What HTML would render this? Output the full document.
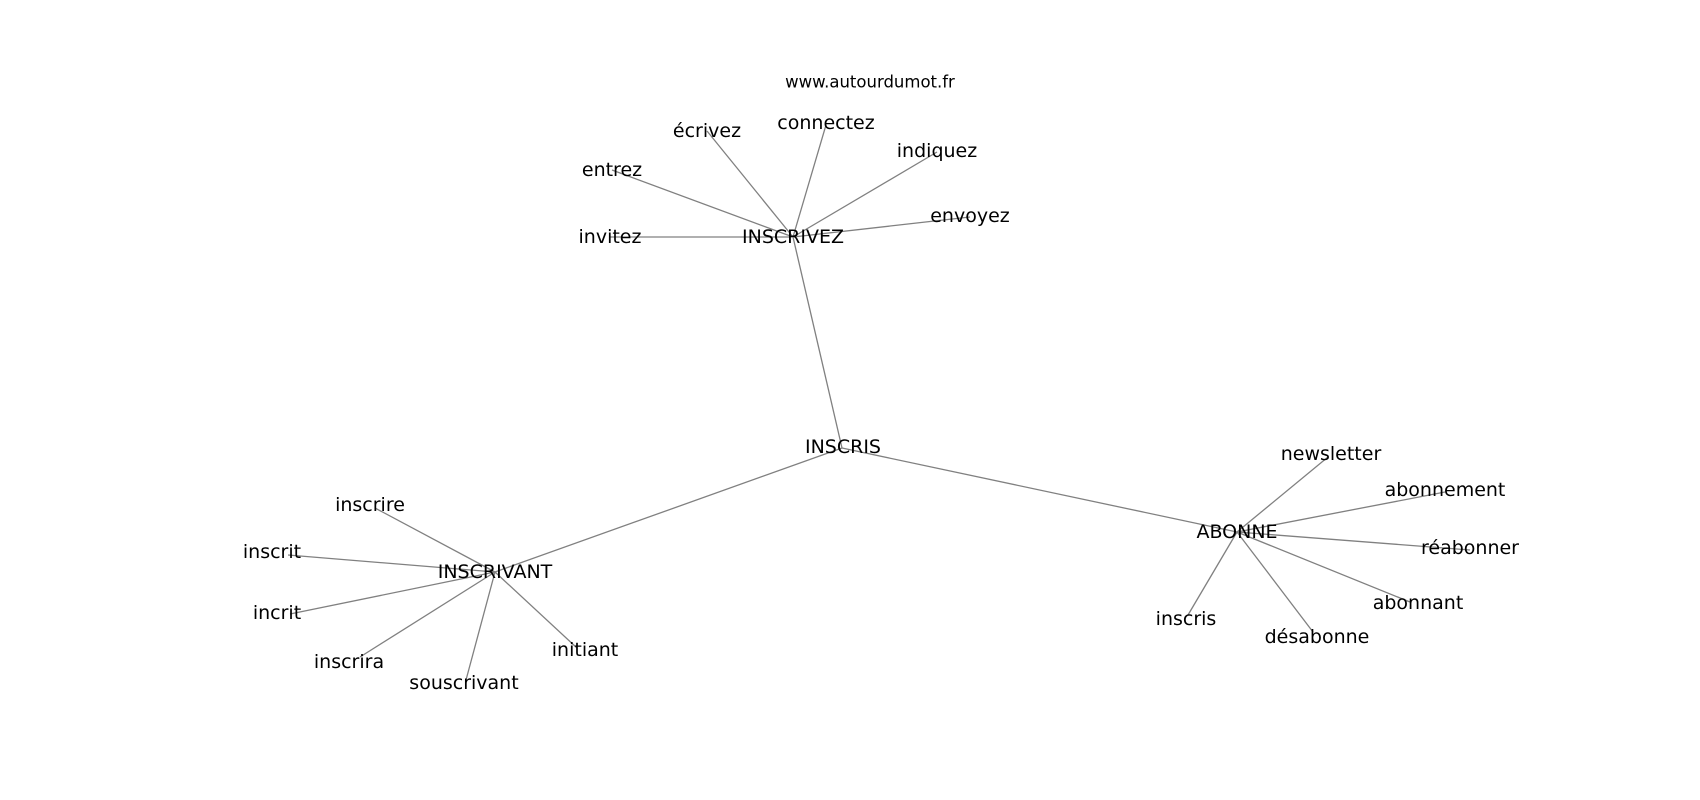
<!DOCTYPE html>
<html><head><meta charset="utf-8"><style>
html,body{margin:0;padding:0;background:#fff;width:1700px;height:800px;overflow:hidden}
text{font-family:"DejaVu Sans","Liberation Sans",sans-serif;font-size:19px;fill:#000;text-anchor:middle;dominant-baseline:central}
line{stroke:#808080;stroke-width:1.3}
</style></head><body>
<svg width="1700" height="800" xmlns="http://www.w3.org/2000/svg">
<g>
<line x1="842" y1="448" x2="793" y2="237"/>
<line x1="842" y1="448" x2="1237" y2="532"/>
<line x1="842" y1="448" x2="495" y2="572"/>
<line x1="793" y1="237" x2="707" y2="131"/>
<line x1="793" y1="237" x2="826" y2="125"/>
<line x1="793" y1="237" x2="937" y2="152"/>
<line x1="793" y1="237" x2="970" y2="217"/>
<line x1="793" y1="237" x2="612" y2="170"/>
<line x1="793" y1="237" x2="610" y2="237"/>
<line x1="1237" y1="532" x2="1328" y2="457"/>
<line x1="1237" y1="532" x2="1445" y2="492"/>
<line x1="1237" y1="532" x2="1470" y2="550"/>
<line x1="1237" y1="532" x2="1410" y2="602"/>
<line x1="1237" y1="532" x2="1313" y2="632"/>
<line x1="1237" y1="532" x2="1188" y2="615"/>
<line x1="495" y1="572" x2="375" y2="508"/>
<line x1="495" y1="572" x2="288" y2="555"/>
<line x1="495" y1="572" x2="290" y2="614"/>
<line x1="495" y1="572" x2="360" y2="657"/>
<line x1="495" y1="572" x2="466" y2="680"/>
<line x1="495" y1="572" x2="577" y2="648"/>
</g>
<text x="870" y="82" style="font-size:16.5px">www.autourdumot.fr</text>
<text x="843" y="447">INSCRIS</text>
<text x="793" y="237">INSCRIVEZ</text>
<text x="1237" y="532">ABONNE</text>
<text x="495" y="572">INSCRIVANT</text>
<text x="707" y="131">écrivez</text>
<text x="826" y="123">connectez</text>
<text x="937" y="151">indiquez</text>
<text x="970" y="216">envoyez</text>
<text x="612" y="170">entrez</text>
<text x="610" y="237">invitez</text>
<text x="1331" y="454">newsletter</text>
<text x="1445" y="490">abonnement</text>
<text x="1470" y="548">réabonner</text>
<text x="1418" y="603">abonnant</text>
<text x="1317" y="637">désabonne</text>
<text x="1186" y="619">inscris</text>
<text x="370" y="505">inscrire</text>
<text x="272" y="552">inscrit</text>
<text x="277" y="613">incrit</text>
<text x="349" y="662">inscrira</text>
<text x="464" y="683">souscrivant</text>
<text x="585" y="650">initiant</text>
</svg>
</body></html>
